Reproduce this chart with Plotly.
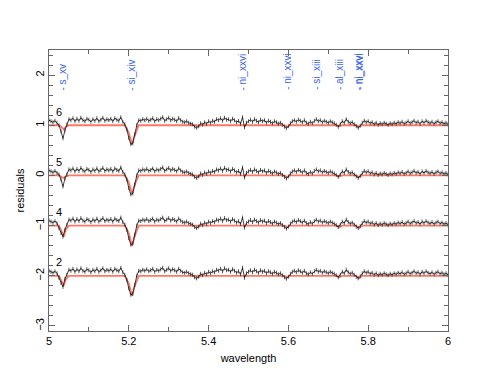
import plotly.graph_objects as go

# residual profile relative to each group's offset, x = 5.000 .. 6.000 step 0.005
wave = [round(5.0 + 0.005 * i, 3) for i in range(201)]
resid_base = [
    0.10, 0.08, 0.06, 0.09, 0.05, 0.00, -0.10, -0.22, -0.12, 0.02,
    0.12, 0.10, 0.14, 0.08, 0.13, 0.09, 0.15, 0.10, 0.08, 0.13,
    0.11, 0.07, 0.12, 0.09, 0.14, 0.08, 0.11, 0.15, 0.09, 0.12,
    0.10, 0.13, 0.08, 0.14, 0.11, 0.09, 0.16, 0.07, 0.02, -0.08,
    -0.25, -0.38, -0.36, -0.18, 0.00, 0.10, 0.09, 0.12, 0.10, 0.13,
    0.09, 0.11, 0.14, 0.08, 0.12, 0.10, 0.13, 0.16, 0.09, 0.12,
    0.15, 0.10, 0.13, 0.11, 0.08, 0.14, 0.10, 0.07, 0.06, 0.08,
    0.05, 0.03, 0.02, -0.03, -0.05, -0.02, 0.04, 0.01, 0.06, 0.03,
    0.08, 0.05, 0.09, 0.07, 0.12, 0.10, 0.14, 0.09, 0.15, 0.11,
    0.12, 0.08, 0.13, 0.10, 0.06, 0.09, 0.03, 0.16, -0.04, 0.05,
    0.08, 0.11, 0.07, 0.12, 0.09, 0.06, 0.11, 0.08, 0.10, 0.05,
    0.09, 0.07, 0.04, 0.08, 0.06, 0.03, 0.05, 0.01, -0.03, -0.06,
    -0.02, 0.04, 0.08, 0.10, 0.07, 0.11, 0.09, 0.06, 0.10, 0.05,
    0.03, 0.07, 0.04, 0.09, 0.12, 0.08, 0.10, 0.06, 0.09, 0.07,
    0.05, 0.08, 0.06, 0.04, 0.01, -0.03, 0.02, 0.08, 0.05, 0.12,
    0.07, 0.04, 0.06, 0.02, -0.02, -0.05, -0.01, 0.05, 0.09, 0.06,
    0.08, 0.04, 0.06, 0.02, 0.05, 0.01, 0.04, 0.02, 0.05, 0.03,
    0.01, 0.04, 0.02, 0.05, 0.03, 0.06, 0.04, 0.07, 0.03, 0.05,
    0.08, 0.04, 0.06, 0.09, 0.05, 0.07, 0.03, 0.08, 0.05, 0.09,
    0.06, 0.04, 0.07, 0.03, 0.06, 0.08, 0.04, 0.06, 0.03, 0.05,
    0.02,
]
resid_err = 0.04

groups = ["6", "5", "4", "2"]
offsets = [1.0, 0.0, -1.0, -2.0]
# s_xv dip (bins 5..8) differs a little per group
sxv_dip = {
    "6": [0.00, -0.12, -0.26, -0.10],
    "5": [0.02, -0.08, -0.22, -0.06],
    "4": [-0.05, -0.15, -0.22, -0.08],
    "2": [-0.04, -0.14, -0.22, -0.06],
}

model_x = [5.0, 5.025, 5.032, 5.037, 5.042, 5.05, 5.19, 5.2, 5.208, 5.215,
           5.225, 5.37, 5.376, 5.382, 5.59, 5.597, 5.605, 5.72, 5.728, 5.735,
           5.77, 5.777, 5.785, 6.0]
model_y = {
    "6": [0, 0, -0.04, -0.08, -0.03, 0, 0, -0.15, -0.38, -0.2,
          0, 0, -0.02, 0, 0, -0.03, 0, 0, -0.02, 0, 0, -0.03, 0, 0],
    "5": [0, 0, -0.03, -0.05, -0.02, 0, 0, -0.14, -0.36, -0.18,
          0, 0, -0.02, 0, 0, -0.03, 0, 0, -0.02, 0, 0, -0.03, 0, 0],
    "4": [0, 0, -0.12, -0.22, -0.08, 0, 0, -0.15, -0.4, -0.2,
          0, 0, -0.02, 0, 0, -0.03, 0, 0, -0.03, 0, 0, -0.05, 0, 0],
    "2": [0, 0, -0.11, -0.2, -0.07, 0, 0, -0.15, -0.4, -0.2,
          0, 0, -0.02, 0, 0, -0.03, 0, 0, -0.03, 0, 0, -0.05, 0, 0],
}

line_ids = ["s_xv", "si_xiv", "ni_xxvi", "ni_xxvi", "si_xiii", "al_xiii", "ni_xxvi", "ni_xxvi"]
line_wave = [5.035, 5.208, 5.486, 5.597, 5.672, 5.728, 5.776, 5.778]

fig = go.Figure()
for g, off in zip(groups, offsets):
    vals = list(resid_base)
    vals[5:9] = sxv_dip[g]
    fig.add_trace(go.Scatter(
        x=model_x, y=[v + off for v in model_y[g]], mode="lines",
        line=dict(color="rgba(255,95,75,0.85)", width=1.8),
        showlegend=False, hoverinfo="skip",
    ))
    fig.add_trace(go.Scatter(
        x=wave, y=[v + off for v in vals], mode="lines",
        line=dict(color="#111", width=0.8),
        error_y=dict(type="constant", value=resid_err, width=0, thickness=0.8, color="#333"),
        showlegend=False, hoverinfo="skip",
    ))
    fig.add_annotation(x=5.025, y=off + 0.27, text=g, showarrow=False,
                       font=dict(size=11, color="black"))

for name, w in zip(line_ids, line_wave):
    fig.add_annotation(x=w, y=1.66, text="- " + name, showarrow=False,
                       textangle=-90, xanchor="center", yanchor="bottom",
                       font=dict(size=10, color="#3a62f0"))

axis_common = dict(
    showline=True, linecolor="#666", linewidth=1, mirror="ticks",
    ticks="inside", ticklen=6, tickcolor="#666", showgrid=False, zeroline=False,
    tickfont=dict(size=11, color="black"),
)
fig.update_xaxes(range=[5, 6], dtick=0.2, tick0=5,
                 minor=dict(dtick=0.1, ticks="inside", ticklen=4, tickcolor="#666"),
                 title=dict(text="wavelength", font=dict(size=11), standoff=8),
                 **axis_common)
fig.update_yaxes(range=[-3.1, 2.5], dtick=1, tick0=0, tickangle=-90,
                 minor=dict(dtick=0.2, ticks="inside", ticklen=4, tickcolor="#666"),
                 title=dict(text="residuals", font=dict(size=11), standoff=6),
                 **axis_common)
# the page body adds an 8px margin, so the figure is sized to fit the window
fig.update_layout(
    width=487, height=375,
    margin=dict(l=38, r=47, t=42, b=52),
    paper_bgcolor="white", plot_bgcolor="white",
    font=dict(family="Liberation Sans, Arial, sans-serif", size=11, color="black"),
)
fig.write_html("out.html")
